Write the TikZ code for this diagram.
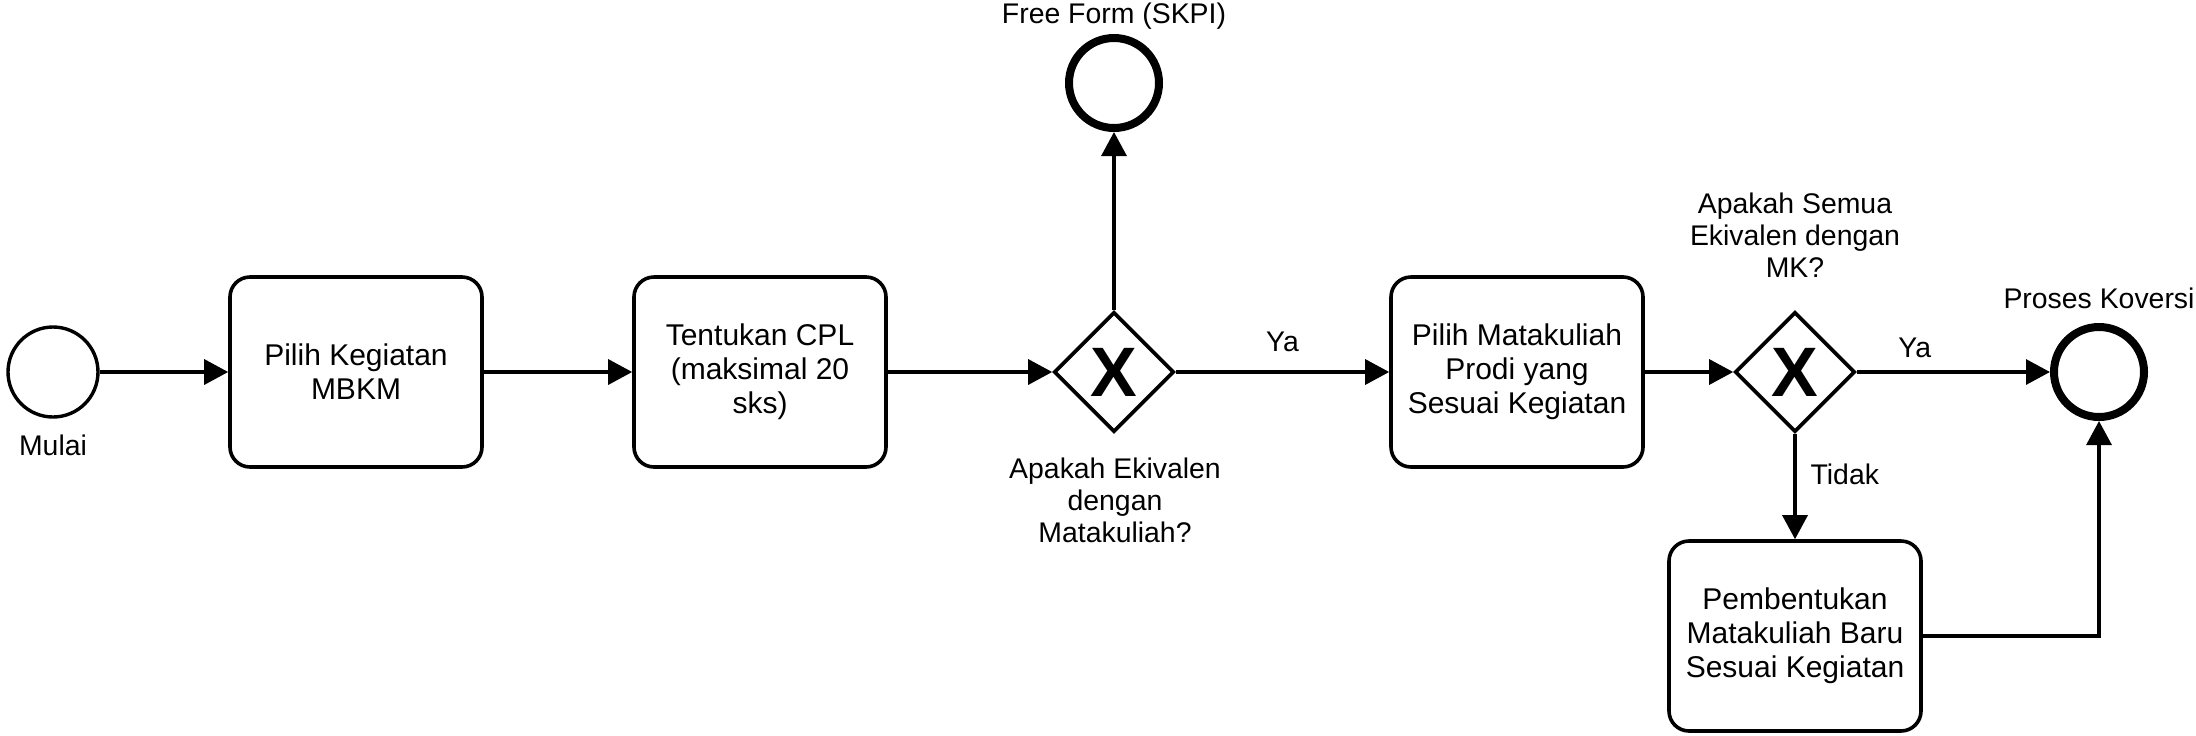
\documentclass[tikz,border=0pt]{standalone}
\usepackage{fontspec}
\setmainfont{Liberation Sans}
\usetikzlibrary{arrows.meta}
\usetikzlibrary{shapes.geometric}
\usetikzlibrary{positioning}

\begin{document}
\begin{tikzpicture}[x=0.5pt,y=-0.5pt,
    every node/.style={font=\fontsize{15}{17}\selectfont},
    tugas/.style={draw, line width=1.8pt, rounded corners=10pt, minimum width=126pt, minimum height=95pt, align=center, inner sep=2pt},
    gerbang/.style={draw, diamond, line width=1.8pt, minimum width=60pt, minimum height=60pt, inner sep=0pt, font=\fontsize{35}{35}\selectfont\bfseries},
    mulai/.style={draw, circle, line width=1.7pt, minimum size=45pt, inner sep=0pt},
    akhir/.style={draw, circle, line width=4pt, minimum size=45pt, inner sep=0pt},
    ket/.style={align=center, inner sep=0pt, font=\fontsize{14.2}{16}\selectfont},
    alur/.style={line width=1.6pt, -{Triangle[length=12pt,width=12.5pt]}}]
    % ukuran gambar
    \useasboundingbox (0,0) rectangle (2196,735);
    % kejadian dan tugas
    \node[mulai] (start) at (53,372) {};
    \node[tugas] (kegiatan) at (356,372) {Pilih Kegiatan\\MBKM};
    \node[tugas] (cpl) at (760,372) {Tentukan CPL\\(maksimal 20\\sks)};
    \node[gerbang] (gwekv) at (1114,372) {X};
    \node[akhir] (freeform) at (1114,83) {};
    \node[tugas] (matkul) at (1517,372) {Pilih Matakuliah\\Prodi yang\\Sesuai Kegiatan};
    \node[gerbang] (gwsemua) at (1795,372) {X};
    \node[akhir] (konversi) at (2099,372) {};
    \node[tugas] (baru) at (1795,636) {Pembentukan\\Matakuliah Baru\\Sesuai Kegiatan};
    % keterangan
    \node[ket, anchor=base] (lmulai) at (53,455) {Mulai};
    \node[ket, anchor=base] (lfree) at (1114,23) {Free Form (SKPI)};
    \node[ket] (lekv) at (1115,500) {Apakah Ekivalen\\dengan\\Matakuliah?};
    \node[ket] (lsemua) at (1795,235) {Apakah Semua\\Ekivalen dengan\\MK?};
    \node[ket, anchor=base] (lkonversi) at (2099,308) {Proses Koversi};
    % alur
    \draw[alur] (start) -- (kegiatan);
    \draw[alur] (kegiatan) -- (cpl);
    \draw[alur] (cpl) -- (gwekv);
    \draw[alur] (gwekv) -- (freeform);
    \draw[alur] (gwekv) -- node[ket, above=9.5pt] (lya1) {Ya} (matkul);
    \draw[alur] (matkul) -- (gwsemua);
    \draw[alur] (gwsemua) -- node[ket, pos=0.3, above=6.5pt] (lya2) {Ya} (konversi);
    \draw[alur] (gwsemua) -- node[ket, pos=0.38, right=7pt] (ltidak) {Tidak} (baru);
    \draw[alur] (baru) -| (konversi);
\end{tikzpicture}
\end{document}
